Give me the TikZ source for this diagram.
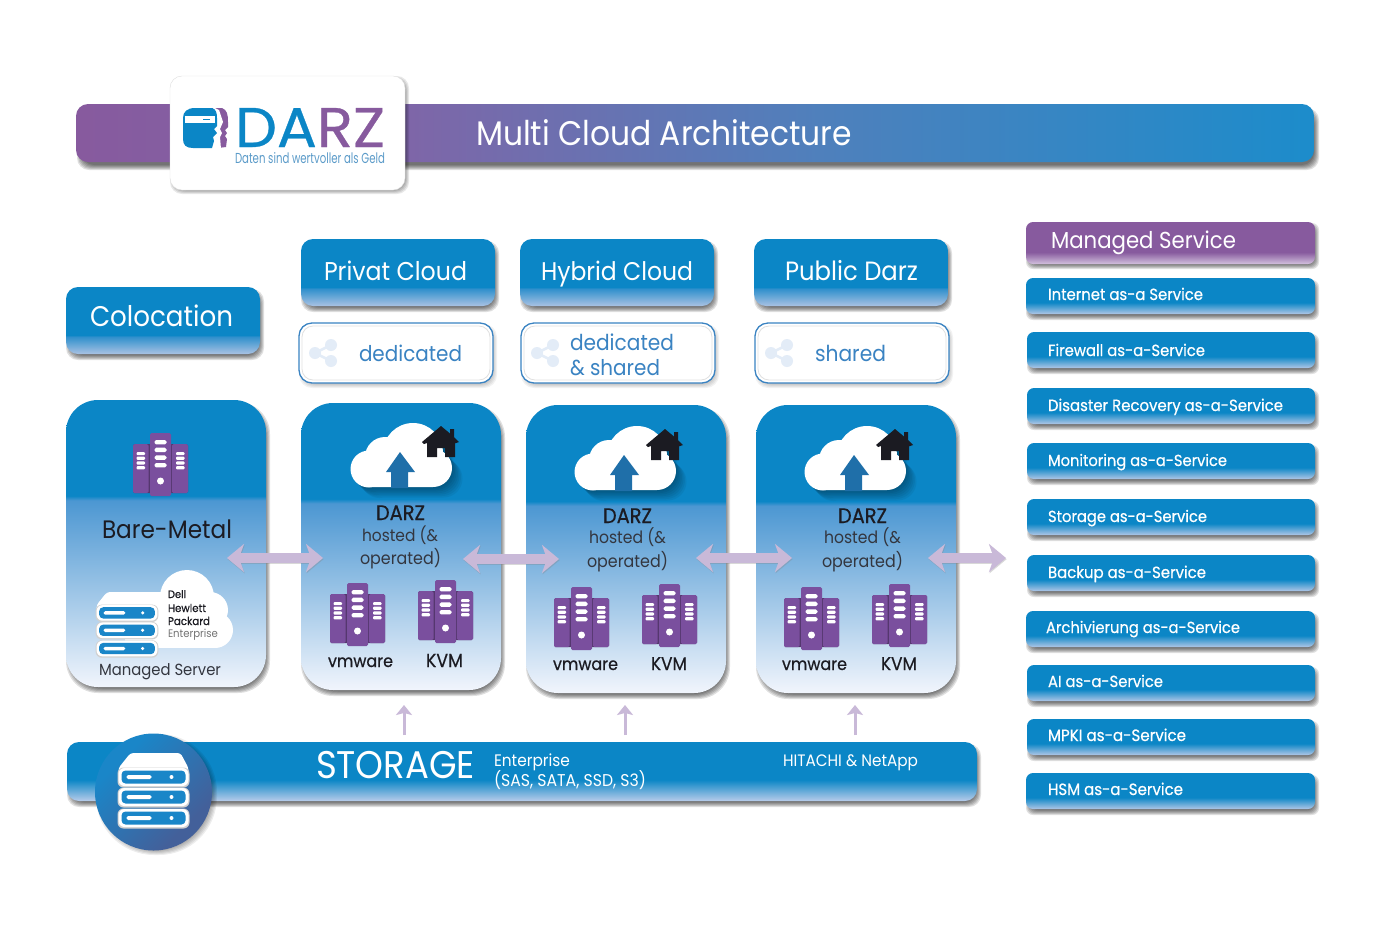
\documentclass[tikz,border=0pt]{standalone}
\usepackage{fontspec}
\usepackage{graphicx}
\setmainfont{Poppins}[FakeStretch=0.92]
\newfontfamily\boldish{Poppins}[FakeStretch=0.92,FakeBold=0.5]
\usetikzlibrary{arrows.meta}
\definecolor{dblue}{HTML}{0B86C6}
\definecolor{dpurple}{HTML}{875A9E}
\definecolor{tower}{HTML}{7A4F9E}
\definecolor{arrowlilac}{HTML}{C9B9D8}
\definecolor{ink}{HTML}{1B1B22}
\definecolor{softink}{HTML}{33363F}
\definecolor{linkblue}{HTML}{3A83C2}
\definecolor{shareblue}{HTML}{E3ECF7}
\definecolor{logotagc}{HTML}{5B9BC9}
\definecolor{arrowin}{HTML}{1F6FA9}
\definecolor{stackblue}{HTML}{1A86C8}
\definecolor{btnlo}{HTML}{A9C2E3}
\definecolor{btnmid}{HTML}{2E8FCC}
\definecolor{itemlo}{HTML}{AFC6E6}
\definecolor{purplelo}{HTML}{D2C0DD}
\definecolor{panlo}{HTML}{F1F5FC}
\definecolor{panmid}{HTML}{4C97D2}
\definecolor{storelo}{HTML}{B8CCEA}
\definecolor{headb}{HTML}{7E66A8}
\definecolor{headc}{HTML}{4F80BC}
\definecolor{headd}{HTML}{1C8CCB}
\definecolor{circb}{HTML}{43609A}
\pgfdeclareverticalshading{btnshade}{100bp}{color(0bp)=(btnlo); color(25bp)=(btnlo); color(38bp)=(btnmid); color(39bp)=(dblue); color(100bp)=(dblue)}
\pgfdeclareverticalshading{itemshade}{100bp}{color(0bp)=(itemlo); color(25bp)=(itemlo); color(41bp)=(dblue); color(100bp)=(dblue)}
\pgfdeclareverticalshading{purpleshade}{100bp}{color(0bp)=(purplelo); color(25bp)=(purplelo); color(39bp)=(dpurple); color(100bp)=(dpurple)}
\pgfdeclareverticalshading{panelshade}{100bp}{color(0bp)=(panlo); color(25bp)=(panlo); color(57.5bp)=(panmid); color(58.3bp)=(dblue); color(100bp)=(dblue)}
\pgfdeclareverticalshading{storeshade}{100bp}{color(0bp)=(storelo); color(25bp)=(storelo); color(43bp)=(dblue); color(100bp)=(dblue)}
\pgfdeclarehorizontalshading{headshade}{100bp}{color(0bp)=(dpurple); color(25bp)=(dpurple); color(38.5bp)=(headb); color(55bp)=(headc); color(75bp)=(headd); color(100bp)=(headd)}
\pgfdeclarehorizontalshading{circshade}{100bp}{color(0bp)=(stackblue); color(30bp)=(stackblue); color(70bp)=(circb); color(100bp)=(circb)}
\tikzset{
  x=1pt,y=-1pt,
  panelbase/.style={rectangle,inner sep=0pt,outer sep=0pt},
  txtnode/.style={inner sep=0pt,outer sep=0pt,anchor=base west},
  outlinebox/.style={panelbase,draw=linkblue,line width=1.3pt,fill=white,rounded corners=13pt},
  lilacdouble/.style={draw=arrowlilac,line width=9.5pt,{Stealth[length=17pt,width=28pt,inset=5pt]}-{Stealth[length=17pt,width=28pt,inset=5pt]}},
  lilacup/.style={draw=arrowlilac,line width=3pt,-{Stealth[length=10pt,width=16pt,inset=2pt]}},
}
\def\shadowop{.12}
\newcommand\softshadow[7]{% x1 y1 x2 y2 r dx dy
  \foreach \kk in {-2,...,3}{
    \fill[black,opacity=\shadowop,rounded corners=#5pt]
      ({#1+#6+\kk},{#2+#7+\kk}) rectangle ({#3+#6-\kk},{#4+#7-\kk});
  }}
\newcommand\panel[7]{% name x1 y1 x2 y2 r shade
  \softshadow{#2}{#3}{#4}{#5}{#6}{2}{4}
  \pgfmathsetmacro\pw{#4-#2}\pgfmathsetmacro\ph{#5-#3}
  \node[panelbase,shading=#7,rounded corners=#6pt,minimum width=\pw pt,minimum height=\ph pt] (#1) at ({(#2+#4)/2},{(#3+#5)/2}) {};}
\newcommand\txt[6]{% name x baseline width colour text
  \node[txtnode,text=#5] (#1) at (#2,#3) {\resizebox{#4pt}{!}{#6}};}
\newcommand\outlined[5]{% name x1 y1 x2 y2
  {\def\shadowop{.05}\softshadow{#2}{#3}{#4}{#5}{13}{2}{3}}
  \pgfmathsetmacro\pw{#4-#2}\pgfmathsetmacro\ph{#5-#3}
  \node[outlinebox,minimum width=\pw pt,minimum height=\ph pt] (#1) at ({(#2+#4)/2},{(#3+#5)/2}) {};
  \draw[black!12,line width=.8pt,rounded corners=11pt] ({#2+3},{#3+3}) rectangle ({#4-3},{#5-3});}
\newcommand\shareicon[2]{%
  \begin{scope}[shift={(#1,#2)}]
    \draw[shareblue,line width=2.6pt] (22,-8) -- (6,0) -- (22,8);
    \fill[shareblue] (6,0) circle[radius=6] (22,-8) circle[radius=6] (22,8) circle[radius=6];
  \end{scope}}
\newcommand\towericon[2]{%
  \begin{scope}[shift={(#1,#2)}]
    \fill[tower!70!black,rounded corners=1.5pt] (0,11) rectangle (55,60);
    \fill[tower,rounded corners=1.5pt] (0,11) rectangle (15.5,60);
    \fill[tower,rounded corners=1.5pt] (39,11) rectangle (55,60);
    \fill[tower,rounded corners=1.5pt] (17,0) rectangle (38,63);
    \foreach \yy in {19,23.7,28.4,33.1}{
      \fill[white,rounded corners=1pt] (3.5,\yy) rectangle (12,{\yy+3.2});
      \fill[white,rounded corners=1pt] (43,\yy) rectangle (51.5,{\yy+3.2});}
    \foreach \yy in {7,14.7,22.4,30}{
      \fill[white,rounded corners=1.6pt] (21.5,\yy) rectangle (33.5,{\yy+4.4});}
    \fill[white] (27.5,48) circle[radius=3.5];
  \end{scope}}
\newcommand\cloudbody{(68,66) circle[radius=18.5] (84,54) circle[radius=20] (112,50) circle[radius=30] (132,65) circle[radius=19] (132,57) rectangle (68,84)}
\newcommand\cloudicon[2]{%
  \begin{scope}[shift={(#1,#2)}]
    \foreach \kk in {1,...,7}{
      \fill[black,opacity=.05,shift={(\kk*1.5,\kk*1.5)}] \cloudbody;}
    \fill[white] \cloudbody;
    \fill[arrowin] (90,85) -- (90,69) -- (85,69) -- (99,49) -- (114,69) -- (107,69) -- (107,85) -- cycle;
    \fill[ink] (121,39) -- (140,23) -- (149,30.5) -- (149,26) -- (153,26) -- (153,34) -- (158,39) -- (155,40) -- (154,40) -- (154,54) -- (144,54) -- (144,45) -- (136,45) -- (136,54) -- (126,54) -- (126,40) -- (123,41) -- cycle;
  \end{scope}}
\newcommand\stackicon[3]{% x y scale
  \begin{scope}[shift={(#1,#2)},scale=#3]
    \fill[white,rounded corners=3pt] (-35,15) -- (-23,0) -- (27,0) -- (35,15) -- (35,22) -- (-35,22) -- cycle;
    \foreach \yy in {15,35,56}{
      \fill[black!18,rounded corners=6pt] (-36,{\yy-.5}) rectangle (36,{\yy+19.5});
      \fill[white,rounded corners=6pt] (-35,\yy) rectangle (35,{\yy+18});
      \fill[stackblue,rounded corners=4pt] (-32,{\yy+2.5}) rectangle (32,{\yy+15.5});
      \fill[white,rounded corners=1.6pt] (-27,{\yy+7}) rectangle (-2,{\yy+11});
      \fill[white] (18,{\yy+9}) circle[radius=2];}
  \end{scope}}
\begin{document}
\begin{tikzpicture}
\useasboundingbox (0,0) rectangle (1400,930);
\fill[white] (0,0) rectangle (1400,930);

% header
\softshadow{76}{104}{1314}{162}{12}{3}{6}
\node[panelbase,shading=headshade,rounded corners=12pt,minimum width=1238pt,minimum height=58pt] (head) at (695,133) {};
\txt{headtxt}{476}{145}{376}{white}{Multi Cloud Architecture}
{\def\shadowop{.09}\softshadow{170}{76}{405}{190}{12}{2}{2}}
\node[panelbase,fill=white,draw=black!12,rounded corners=12pt,minimum width=235pt,minimum height=114pt] (logo) at (287.5,133) {};
% logo face
\fill[dpurple] (208,108) -- (222,108) .. controls (227,110) and (228,114) .. (228,122) -- (228,127) -- (225,130) -- (227,133) -- (225,136) -- (227,139) -- (226,147) -- (218,148) -- cycle;
\fill[white] (213,107) -- (219,110) -- (223,122) -- (220,129) -- (222,133) -- (220,137) -- (221,149) -- (213,149) -- cycle;
\fill[dblue] (195,108) -- (212,108) .. controls (216,109) and (217,113) .. (217,118) -- (217,126) -- (214,129) -- (217,133) -- (213,137) -- (214,141) -- (212,148) -- (193,148) .. controls (186,148) and (183,145) .. (183,139) -- (183,118) .. controls (183,112) and (187,108) .. (195,108) -- cycle;
\fill[white] (185,116) rectangle (215,123);
\draw[dblue,line width=.8pt] (203,119.5) -- (210,119.5);
\node[txtnode] (logoword) at (235,147) {\resizebox{150pt}{39pt}{\boldish\textcolor{dblue}{DA}\textcolor{dpurple}{RZ}}};
\node[txtnode,text=logotagc] (logotag) at (235,163.5) {\resizebox{150pt}{11pt}{Daten sind wertvoller als Geld}};

% column headers
\panel{colo}{66}{287}{260}{354}{12}{btnshade}
\panel{privat}{301}{239}{495}{306}{12}{btnshade}
\panel{hybrid}{520}{239}{714}{306}{12}{btnshade}
\panel{public}{754}{239}{948}{306}{12}{btnshade}
\txt{colotxt}{90}{326.5}{143}{white}{Colocation}
\txt{privattxt}{324}{280}{143}{white}{Privat Cloud}
\txt{hybridtxt}{541}{280}{152}{white}{Hybrid Cloud}
\txt{publictxt}{785}{280}{133}{white}{Public Darz}

% dedicated boxes
\outlined{dedA}{299}{323}{493}{383}
\outlined{dedB}{521}{323}{715}{383}
\outlined{dedC}{755}{323}{949}{383}
\shareicon{309}{353}\shareicon{531}{353}\shareicon{765}{353}
\txt{dedAtxt}{359}{361}{103}{linkblue}{dedicated}
\txt{dedBtxta}{570}{350}{104}{linkblue}{dedicated}
\txt{dedBtxtb}{570}{375}{90}{linkblue}{\& shared}
\txt{dedCtxt}{815}{361}{71}{linkblue}{shared}

% big panels
\panel{bare}{66}{400}{266}{687}{32}{panelshade}
\panel{pA}{301}{403}{501}{690}{32}{panelshade}
\panel{pB}{526}{405}{726}{693}{32}{panelshade}
\panel{pC}{756}{405}{956}{693}{32}{panelshade}

\towericon{133}{433}
\txt{baretxt}{102}{538}{130}{ink}{Bare-Metal}
% bare metal cloud
\fill[white] (187,597) circle[radius=27];
\fill[white] (210,610) circle[radius=18];
\fill[white] (215,630) circle[radius=18];
\fill[white] (150,605) rectangle (215,648);
\fill[white] (125,592) rectangle (170,648);
\stackicon{127}{592}{.87}
\txt{dell}{168}{598}{18}{ink}{\boldish Dell}
\txt{hp1}{168}{612}{38}{ink}{\boldish Hewlett}
\txt{hp2}{168}{625}{42}{ink}{\boldish Packard}
\txt{hp3}{168}{637}{50}{black!55}{Enterprise}
\txt{mgd}{99}{675}{122}{softink}{Managed Server}

\cloudicon{301}{403}
\cloudicon{525}{406}
\cloudicon{755}{406}
\txt{daA}{376}{520}{49}{ink}{\boldish DARZ}
\txt{hoA}{362}{541}{76}{softink}{hosted (\&}
\txt{opA}{360}{564}{81}{softink}{operated)}
\towericon{330}{583}\towericon{418}{580}
\txt{vmA}{328}{667}{65}{ink}{\boldish vmware}
\txt{kvA}{426}{667}{37}{ink}{\boldish KVM}

\txt{daB}{603}{523}{49}{ink}{\boldish DARZ}
\txt{hoB}{589}{543}{77}{softink}{hosted (\&}
\txt{opB}{587}{567}{81}{softink}{operated)}
\towericon{554}{587}\towericon{642}{584}
\txt{vmB}{553}{670}{65}{ink}{\boldish vmware}
\txt{kvB}{651}{670}{36}{ink}{\boldish KVM}

\txt{daC}{838}{523}{49}{ink}{\boldish DARZ}
\txt{hoC}{824}{543}{77}{softink}{hosted (\&}
\txt{opC}{822}{567}{81}{softink}{operated)}
\towericon{784}{587}\towericon{872}{584}
\txt{vmC}{782}{670}{65}{ink}{\boldish vmware}
\txt{kvC}{881}{670}{36}{ink}{\boldish KVM}

% storage
\panel{store}{67}{742}{977}{801}{12}{storeshade}
{\def\shadowop{.07}\softshadow{95}{733}{212}{850}{58}{3}{3}}
\node[circle,inner sep=0pt,minimum size=117pt,shading=circshade,shading angle=-45] (disk) at (153.5,792) {};
\stackicon{153.5}{753}{1}
\txt{storetxt}{316}{778.5}{159}{white}{STORAGE}
\txt{entA}{494}{766}{76}{white}{Enterprise}
\txt{entB}{494}{786}{152}{white}{(SAS, SATA, SSD, S3)}
\txt{hit}{783}{766}{135}{white}{HITACHI \& NetApp}

% double arrows
\coordinate (a1) at (227,558); \coordinate (a2) at (323,558);
\coordinate (b1) at (463,559); \coordinate (b2) at (559,559);
\coordinate (c1) at (696,558); \coordinate (c2) at (792,558);
\coordinate (d1) at (928,558); \coordinate (d2) at (1006,558);
\foreach \pa/\pb in {a1/a2,b1/b2,c1/c2,d1/d2}{
  \draw[lilacdouble,draw=black!50,opacity=.3,transform canvas={xshift=.6pt,yshift=-1.2pt}] (\pa) -- (\pb);
  \draw[lilacdouble] (\pa) -- (\pb);}

% up arrows
\coordinate (u1s) at (404,735); \coordinate (u1e) at (404,705);
\coordinate (u2s) at (625,735); \coordinate (u2e) at (625,705);
\coordinate (u3s) at (855,735); \coordinate (u3e) at (855,705);
\draw[lilacup] (u1s) -- (u1e);
\draw[lilacup] (u2s) -- (u2e);
\draw[lilacup] (u3s) -- (u3e);

% managed services
\softshadow{1026}{222}{1315}{264}{7}{2}{3}
\node[panelbase,shading=purpleshade,rounded corners=7pt,minimum width=289pt,minimum height=42pt] (msv) at (1170.5,243) {};
\txt{msvtxt}{1051}{248}{185}{white}{Managed Service}
\foreach \inm/\ixa/\iya/\iyb/\ibl/\itx/\iwd/\ilbl in {
 i1/1026/278/314/300/1048/155/{Internet as-a Service},
 i2/1027/332/368/356/1048/157/{Firewall as-a-Service},
 i3/1027/388/424/411/1048/235/{Disaster Recovery as-a-Service},
 i4/1027/443/479/466/1048/179/{Monitoring as-a-Service},
 i5/1027/499/535/522/1048/159/{Storage as-a-Service},
 i6/1027/555/591/578/1048/158/{Backup as-a-Service},
 i7/1026/611/647/633/1046/194/{Archivierung as-a-Service},
 i8/1027/665/701/687/1048/115/{AI as-a-Service},
 i9/1027/719/755/741/1048/138/{MPKI as-a-Service},
 i10/1026/773/809/795/1048/135/{HSM as-a-Service}}{
  \panel{\inm}{\ixa}{\iya}{1315}{\iyb}{7}{itemshade}
  \txt{\inm t}{\itx}{\ibl}{\iwd}{white}{\boldish\ilbl}
}
\end{tikzpicture}
\end{document}
